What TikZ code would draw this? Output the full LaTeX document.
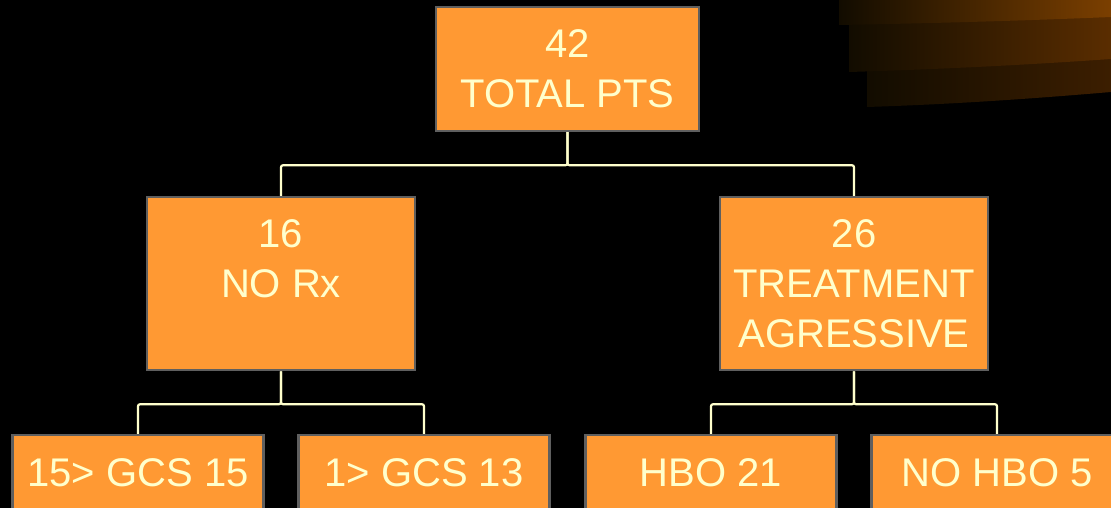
\documentclass[tikz,border=0pt]{standalone}
\usepackage{fontspec}
\setmainfont{Liberation Sans}
\usetikzlibrary{positioning}
\definecolor{ptOrange}{HTML}{FF9933}
\definecolor{ptBorder}{HTML}{5F5F5F}
\definecolor{ptText}{HTML}{FFFFCC}
\definecolor{ptLine}{HTML}{FFFFCC}
\definecolor{ptBandA}{HTML}{7B3F00}
\definecolor{ptBandB}{HTML}{5A2D00}
\definecolor{ptBandC}{HTML}{3C1E00}
\definecolor{ptBandDark}{HTML}{120C00}

\begin{document}
\begin{tikzpicture}[x=1pt, y=1pt,
  box/.style={draw=ptBorder, line width=2.5pt, fill=ptOrange, text=ptText, align=center, font=\fontsize{40}{50}\selectfont, inner sep=0pt},
  topbox/.style={box, minimum width=263pt, minimum height=124pt},
  midbox/.style={box, minimum width=268pt, minimum height=173pt},
  leafbox/.style={box, minimum width=251pt, minimum height=76pt},
  link/.style={draw=ptLine, line width=2.2pt, rounded corners=2pt}
]
\useasboundingbox (0,0) rectangle (1111,-508);
\clip (0,0) rectangle (1111,-508);
\fill[black] (0,0) rectangle (1111,-508);

% bands in the top right corner
\shade[left color=ptBandDark, right color=ptBandC] (867,0) -- (867,-107) .. controls (960,-104) and (1040,-98) .. (1111,-92) -- (1111,0) -- cycle;
\shade[left color=ptBandDark, right color=ptBandB] (849,0) -- (849,-72) .. controls (950,-69) and (1040,-64) .. (1111,-59) -- (1111,0) -- cycle;
\shade[left color=ptBandDark, right color=ptBandA] (839,0) -- (839,-25) .. controls (950,-23) and (1040,-20) .. (1111,-17) -- (1111,0) -- cycle;

\node[topbox] (total) at (567.5,-69) {42\\TOTAL PTS};
\node[midbox, below=63.5pt of total, xshift=-286.5pt] (norx) {16\\NO Rx\\\phantom{X}};
\node[midbox, below=63.5pt of total, xshift=286.5pt] (treat) {26\\TREATMENT\\AGRESSIVE};

\node[leafbox, below=62.5pt of norx, xshift=-143pt] (gcshigh) {15> GCS 15};
\node[leafbox, below=62.5pt of norx, xshift=143pt] (gcslow) {1> GCS 13};
\node[leafbox, below=62.5pt of treat, xshift=-143pt] (hbo) {HBO 21};
\node[leafbox, below=62.5pt of treat, xshift=143pt] (nohbo) {NO HBO 5};

\draw[link] (total.south) -- ++(0,-33) -| (norx.north);
\draw[link] (total.south) -- ++(0,-33) -| (treat.north);
\draw[link] (norx.south) -- ++(0,-33) -| (gcshigh.north);
\draw[link] (norx.south) -- ++(0,-33) -| (gcslow.north);
\draw[link] (treat.south) -- ++(0,-33) -| (hbo.north);
\draw[link] (treat.south) -- ++(0,-33) -| (nohbo.north);
\end{tikzpicture}
\end{document}
